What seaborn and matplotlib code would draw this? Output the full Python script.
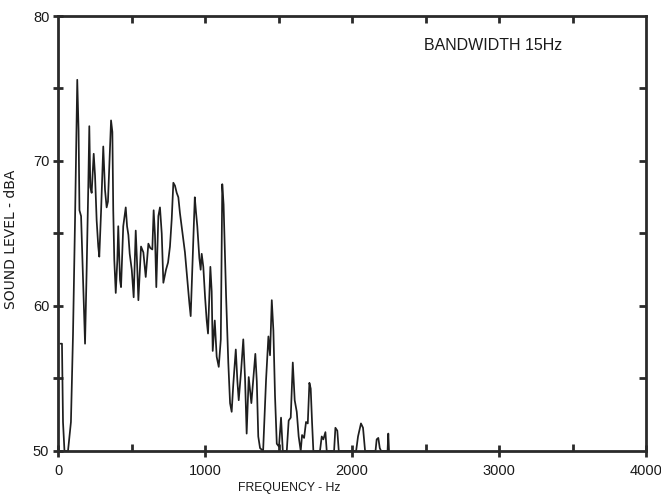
import matplotlib
matplotlib.use("Agg")
import matplotlib.pyplot as plt
from matplotlib.ticker import MultipleLocator, NullFormatter
import seaborn as sns
import pandas as pd

# ---- data ----
frequency_hz = [
    15, 25, 32, 42, 66, 86, 100, 114, 129, 138, 144, 155, 168, 182, 193, 204,
    211, 218, 227, 241, 250, 261, 272, 279, 291, 306, 318, 329, 338, 347, 359,
    368, 374, 381, 391, 402, 408, 420, 427, 442, 459, 468, 477, 486, 500, 513,
    527, 536, 545, 563, 579, 595, 613, 626, 640, 649, 658, 667, 681, 692, 704,
    715, 733, 747, 760, 772, 783, 794, 806, 817, 828, 851, 862, 878, 892, 901,
    915, 929, 937, 946, 960, 969, 976, 987, 999, 1010, 1019, 1035, 1044, 1051,
    1065, 1078, 1092, 1106, 1116, 1125, 1142, 1157, 1169, 1180, 1191, 1208,
    1219, 1228, 1244, 1259, 1271, 1282, 1296, 1305, 1314, 1327, 1341, 1351,
    1361, 1373, 1394, 1414, 1430, 1441, 1453, 1464, 1475, 1487, 1502, 1516,
    1528, 1555, 1568, 1582, 1596, 1609, 1623, 1636, 1650, 1659, 1673, 1686,
    1698, 1709, 1718, 1727, 1736, 1781, 1793, 1804, 1818, 1827, 1877, 1886,
    1899, 1909, 2027, 2040, 2060, 2074, 2088, 2159, 2167, 2178, 2188, 2197,
    2241, 2246, 2251,
]
sound_level_dba = [
    57.4, 57.4, 52.0, 50.0, 50.0, 52.0, 58.0, 66.0, 75.6, 72.1, 66.6, 66.2,
    62.0, 57.4, 62.5, 68.2, 72.4, 68.2, 67.8, 70.5, 69.0, 65.9, 64.1, 63.4,
    66.5, 71.0, 68.0, 66.8, 67.2, 69.6, 72.8, 72.0, 66.6, 63.2, 60.9, 63.2,
    65.5, 61.8, 61.3, 65.5, 66.8, 65.5, 64.9, 63.6, 62.5, 60.6, 65.2, 63.0,
    60.4, 64.1, 63.7, 62.0, 64.3, 64.0, 63.9, 66.6, 64.9, 61.3, 66.2, 66.8,
    65.0, 61.6, 62.5, 63.0, 64.1, 66.0, 68.5, 68.3, 67.8, 67.5, 66.4, 64.6,
    63.7, 61.8, 60.2, 59.3, 63.3, 67.5, 66.5, 65.5, 63.3, 62.5, 63.6, 62.7,
    60.6, 59.0, 58.1, 62.7, 61.0, 56.9, 59.0, 56.5, 55.8, 57.7, 68.4, 67.0,
    60.7, 56.1, 53.3, 52.7, 54.6, 57.0, 54.8, 53.5, 55.5, 57.7, 55.0, 51.2,
    55.1, 54.2, 53.3, 54.9, 56.7, 54.8, 51.0, 50.2, 50.0, 54.9, 57.9, 56.6,
    60.4, 58.3, 53.8, 50.5, 50.3, 52.3, 50.0, 50.0, 52.1, 52.3, 56.1, 53.5,
    52.7, 51.0, 50.0, 51.1, 50.9, 52.0, 51.9, 54.7, 54.3, 52.0, 50.0, 50.0,
    51.0, 50.8, 51.3, 50.0, 50.0, 51.6, 51.4, 50.0, 50.0, 51.0, 51.9, 51.6,
    50.0, 50.0, 50.8, 50.9, 50.2, 50.0, 50.0, 51.2, 50.0,
]
x_ticks = [0, 1000, 2000, 3000, 4000]
y_ticks = [50, 60, 70, 80]
top_ticks = [500, 1000, 1500, 2000, 2500, 3000, 3500]
right_ticks = [55, 60, 65, 70, 75]
annotation = "BANDWIDTH 15Hz"

df = pd.DataFrame({"freq": frequency_hz, "level": sound_level_dba})

sns.set_style("white")
plt.rcParams["font.family"] = ["Liberation Sans", "DejaVu Sans"]

fig = plt.figure(figsize=(6.61, 4.97), dpi=100)
ax = fig.add_axes([0.0882, 0.0926, 0.8891, 0.8752])

sns.lineplot(data=df, x="freq", y="level", ax=ax, color="#1e1e1e",
             linewidth=1.25, estimator=None, sort=False)

ax.set_xlim(0, 4000)
ax.set_ylim(50, 80)
ax.set_xticks(x_ticks)
ax.set_yticks(y_ticks)
ax.xaxis.set_minor_locator(MultipleLocator(500))
ax.yaxis.set_minor_locator(MultipleLocator(5))

tick_col = "#2a2a2a"
for s in ax.spines.values():
    s.set_linewidth(2.0)
    s.set_color(tick_col)
    s.set_visible(True)

ax.tick_params(axis="both", which="both", colors=tick_col, labelcolor="#1a1a1a",
               width=2.0, top=False, right=False)
ax.tick_params(axis="x", which="major", direction="inout", length=9,
               labelsize=10.5, pad=5)
ax.tick_params(axis="x", which="minor", direction="in", length=5)
ax.tick_params(axis="y", which="major", direction="inout", length=7,
               labelsize=10.5, pad=3)
ax.tick_params(axis="y", which="minor", direction="inout", length=7)

# top and right axes: inward ticks only, no labels
top = ax.twiny()
top.set_xlim(0, 4000)
top.set_xticks(top_ticks)
top.xaxis.set_major_formatter(NullFormatter())
top.tick_params(axis="x", which="both", direction="in", length=5, width=2.0,
                colors=tick_col, top=True, bottom=False, labeltop=False)
for s in top.spines.values():
    s.set_visible(False)

right = ax.twinx()
right.set_ylim(50, 80)
right.set_yticks(right_ticks)
right.yaxis.set_major_formatter(NullFormatter())
right.tick_params(axis="y", which="both", direction="in", length=5, width=2.0,
                  colors=tick_col, right=True, left=False, labelright=False)
for s in right.spines.values():
    s.set_visible(False)

ax.set_xlabel("FREQUENCY - Hz", fontsize=8.8, color="#1a1a1a")
ax.set_ylabel("SOUND LEVEL - dBA", fontsize=10, color="#1a1a1a",
              family=["DejaVu Sans"])
ax.xaxis.set_label_coords(0.393, -0.072)
ax.yaxis.set_label_coords(-0.068, 0.487)

ax.text(2490, 78.0, annotation, fontsize=11.5, color="#1a1a1a",
        ha="left", va="center")

fig.savefig("out.png", dpi=100, facecolor="white")
